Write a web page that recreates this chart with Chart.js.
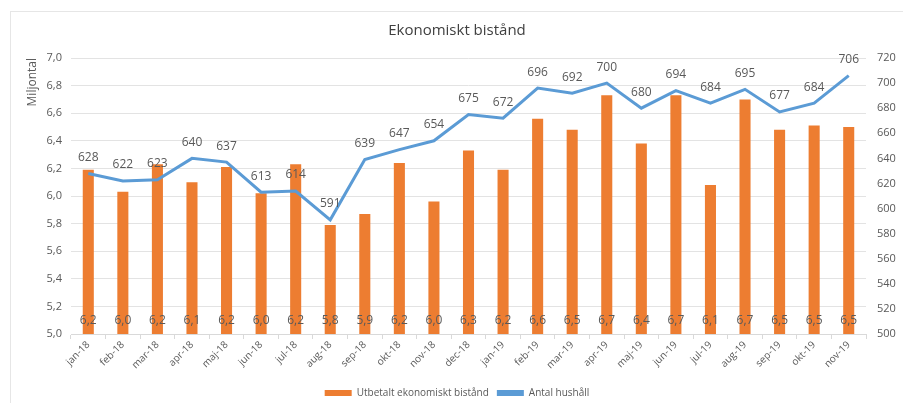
<!DOCTYPE html>
<html>
<head>
<meta charset="utf-8">
<script src="https://cdn.jsdelivr.net/npm/chart.js@4/dist/chart.umd.min.js"></script>
<style>
html,body{margin:0;padding:0;background:#fff;overflow:hidden;}
#wrap{position:absolute;left:10px;top:11px;width:893px;height:392px;border-left:1px solid #e6e6e6;border-top:1px solid #e6e6e6;box-sizing:border-box;}
canvas{display:block;}
</style>
</head>
<body>
<div id="wrap"><canvas id="c"></canvas></div>
<script>
const categories = ["jan-18","feb-18","mar-18","apr-18","maj-18","jun-18","jul-18","aug-18","sep-18","okt-18","nov-18","dec-18","jan-19","feb-19","mar-19","apr-19","maj-19","jun-19","jul-19","aug-19","sep-19","okt-19","nov-19"];
const utbetalt = [6.19,6.03,6.23,6.10,6.21,6.02,6.23,5.79,5.87,6.24,5.96,6.33,6.19,6.56,6.48,6.73,6.38,6.73,6.08,6.70,6.48,6.51,6.50];
const hushall = [628,622,623,640,637,613,614,591,639,647,654,675,672,696,692,700,680,694,684,695,677,684,706];
const leftTicks = [5.0,5.2,5.4,5.6,5.8,6.0,6.2,6.4,6.6,6.8,7.0];
const rightTicks = [500,520,540,560,580,600,620,640,660,680,700,720];

const fontFam = "'Open Sans', 'Liberation Sans', sans-serif";
const grey = '#595959';

const labelPlugin = {
  id: 'labels',
  afterDatasetsDraw(chart) {
    const ctx = chart.ctx;
    ctx.save();
    ctx.font = "12px " + fontFam;
    ctx.fillStyle = grey;
    ctx.textAlign = 'center';
    const barMeta = chart.getDatasetMeta(0);
    const yL = chart.scales.y;
    barMeta.data.forEach((el, i) => {
      ctx.textBaseline = 'middle';
      ctx.fillText(utbetalt[i].toFixed(1).replace('.', ','), el.x, yL.getPixelForValue(5.0) - 13);
    });
    const lineMeta = chart.getDatasetMeta(1);
    lineMeta.data.forEach((el, i) => {
      ctx.textBaseline = 'middle';
      ctx.fillText(String(hushall[i]), el.x, el.y - 16);
    });
    ctx.restore();
  }
};

new Chart(document.getElementById('c'), {
  data: {
    labels: categories,
    datasets: [
      {
        type: 'bar',
        label: 'Utbetalt ekonomiskt bistånd',
        data: utbetalt,
        backgroundColor: '#ED7D31',
        borderWidth: 0,
        yAxisID: 'y',
        barPercentage: 0.32,
        categoryPercentage: 1.0,
        order: 2
      },
      {
        type: 'line',
        label: 'Antal hushåll',
        data: hushall,
        borderColor: '#5B9BD5',
        backgroundColor: '#5B9BD5',
        borderWidth: 3,
        pointRadius: 0,
        tension: 0,
        yAxisID: 'y1',
        order: 1
      }
    ]
  },
  options: {
    responsive: true,
    maintainAspectRatio: false,
    animation: false,
    layout: { padding: { left: 0, right: 0, top: 0, bottom: -5 } },
    plugins: {
      title: {
        display: true,
        text: 'Ekonomiskt bistånd',
        color: '#404040',
        font: { family: fontFam, size: 15, weight: 'normal' },
        padding: { top: 10, bottom: 18 }
      },
      legend: {
        position: 'bottom',
        labels: {
          color: grey,
          font: { family: fontFam, size: 10 },
          boxWidth: 27,
          boxHeight: 6,
          padding: 8,
          generateLabels(chart) {
            return chart.data.datasets.map((ds, i) => ({
              text: ds.label,
              fillStyle: ds.type === 'bar' ? '#ED7D31' : '#5B9BD5',
              strokeStyle: ds.type === 'bar' ? '#ED7D31' : '#5B9BD5',
              lineWidth: 0,
              fontColor: grey,
              datasetIndex: i
            }));
          }
        }
      },
      tooltip: { enabled: false }
    },
    scales: {
      x: {
        grid: { display: true, drawOnChartArea: false, drawTicks: true, tickLength: 5, color: '#d9d9d9', offset: true },
        border: { color: '#d9d9d9' },
        ticks: {
          color: grey,
          font: { family: fontFam, size: 10 },
          maxRotation: 45,
          minRotation: 45,
          autoSkip: false,
          padding: 0
        },
        afterFit(s) { s.height = 46; }
      },
      y: {
        position: 'left',
        min: 5.0,
        max: 7.0,
        afterBuildTicks(s) { s.ticks = leftTicks.map(v => ({ value: v })); },
        ticks: {
          color: grey,
          font: { family: fontFam, size: 11 },
          padding: 9,
          callback: v => Number(v).toFixed(1).replace('.', ',')
        },
        grid: { color: '#e3e3e3', drawTicks: false },
        border: { display: false },
        title: {
          display: true,
          text: 'Miljontal',
          align: 'end',
          color: grey,
          font: { family: fontFam, size: 12 },
          padding: { top: 14, bottom: 0 }
        },
        afterFit(s) { s.width = 60; }
      },
      y1: {
        position: 'right',
        min: 500,
        max: 720,
        afterBuildTicks(s) { s.ticks = rightTicks.map(v => ({ value: v })); },
        ticks: { color: grey, font: { family: fontFam, size: 11 }, padding: 11 },
        grid: { display: false, drawTicks: false },
        border: { display: false },
        afterFit(s) { s.width = 37; }
      }
    }
  },
  plugins: [labelPlugin]
});
</script>
</body>
</html>
